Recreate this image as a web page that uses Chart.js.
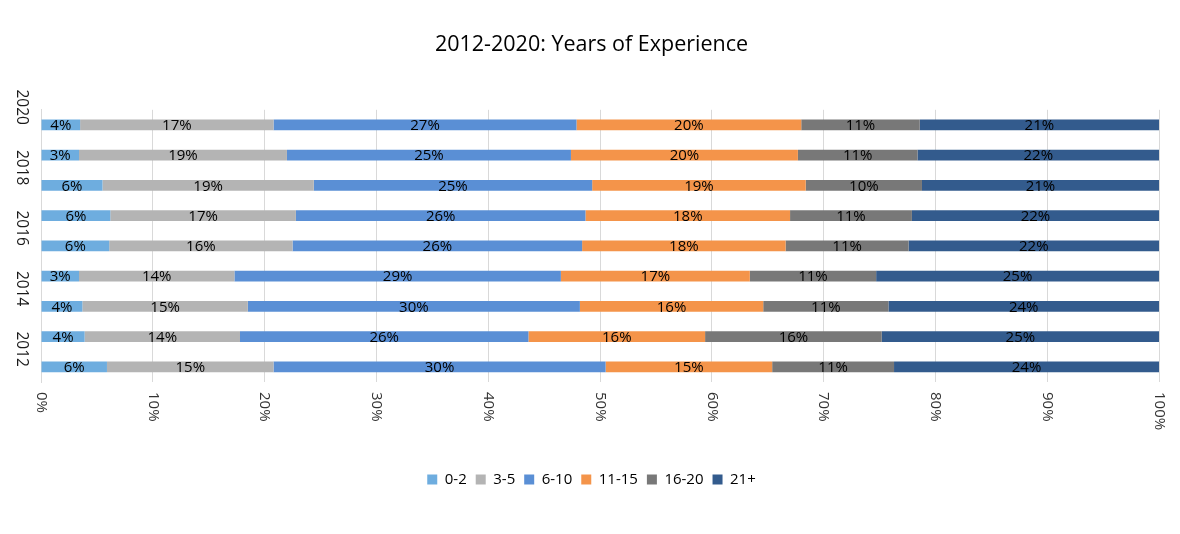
<!DOCTYPE html>
<html>
<head>
<meta charset="utf-8">
<script src="https://cdn.jsdelivr.net/npm/chart.js@4.4.1/dist/chart.umd.min.js"></script>
<style>
html,body{margin:0;padding:0;background:#ffffff;}
canvas{display:block;}
</style>
</head>
<body>
<canvas id="c" width="1180" height="534"></canvas>
<script>
// ---- data ----
const years = ['2012','2013','2014','2015','2016','2017','2018','2019','2020'];
const yLabelYears = ['2012','2014','2016','2018','2020'];
const seriesNames = ['0-2','3-5','6-10','11-15','16-20','21+'];
const exp0to2   = [5.9, 3.9, 3.7, 3.4, 6.1, 6.2, 5.5, 3.4, 3.5];
const exp3to5   = [14.9, 13.9, 14.8, 13.9, 16.4, 16.6, 18.9, 18.6, 17.3];
const exp6to10  = [29.7, 25.8, 29.7, 29.2, 25.9, 25.9, 24.9, 25.4, 27.1];
const exp11to15 = [14.9, 15.8, 16.4, 16.9, 18.2, 18.3, 19.1, 20.3, 20.1];
const exp16to20 = [10.9, 15.8, 11.2, 11.3, 11.0, 10.9, 10.4, 10.7, 10.6];
const exp21plus = [23.7, 24.8, 24.2, 25.3, 22.4, 22.1, 21.2, 21.6, 21.4];
const xTickLabels = ['0%','10%','20%','30%','40%','50%','60%','70%','80%','90%','100%'];

const seriesValues = [exp0to2, exp3to5, exp6to10, exp11to15, exp16to20, exp21plus];
const seriesColors = ['#6EADDF', '#B4B4B4', '#5A8FD5', '#F4944A', '#787878', '#335B8D'];

const FONT = '"Open Sans", "DejaVu Sans", sans-serif';

const customLabels = {
  id: 'customLabels',
  afterDatasetsDraw(chart) {
    const ctx = chart.ctx;
    ctx.save();
    ctx.font = '15px ' + FONT;
    ctx.fillStyle = '#000000';
    ctx.textAlign = 'center';
    ctx.textBaseline = 'middle';
    chart.data.datasets.forEach((ds, di) => {
      const meta = chart.getDatasetMeta(di);
      meta.data.forEach((bar, i) => {
        const p = bar.getProps(['x', 'base', 'y'], true);
        ctx.fillText(Math.round(ds.data[i]) + '%', (p.x + p.base) / 2, p.y + 1);
      });
    });
    ctx.restore();
  },
  afterDraw(chart) {
    const ctx = chart.ctx;
    const xs = chart.scales.x, ys = chart.scales.y;
    ctx.save();
    ctx.fillStyle = '#333333';
    ctx.font = '15px ' + FONT;
    xs.ticks.forEach((t, i) => {
      const px = xs.getPixelForValue(t.value);
      ctx.save();
      ctx.translate(px, chart.chartArea.bottom + 10);
      ctx.rotate(Math.PI / 2);
      ctx.textAlign = 'left';
      ctx.textBaseline = 'middle';
      ctx.fillText(xTickLabels[i], 0, 0);
      ctx.restore();
    });
    ctx.fillStyle = '#1a1a1a';
    ctx.font = '15.5px ' + FONT;
    yLabelYears.forEach(yr => {
      const py = ys.getPixelForValue(years.indexOf(yr));
      ctx.save();
      ctx.translate(21, py);
      ctx.rotate(Math.PI / 2);
      ctx.textAlign = 'right';
      ctx.textBaseline = 'middle';
      ctx.fillText(yr, 0, 0);
      ctx.restore();
    });
    ctx.restore();
  }
};

new Chart(document.getElementById('c'), {
  type: 'bar',
  data: {
    labels: years,
    datasets: seriesNames.map((name, k) => ({
      label: name,
      data: seriesValues[k],
      backgroundColor: seriesColors[k],
      borderWidth: 0,
      barPercentage: 0.36,
      categoryPercentage: 1.0
    }))
  },
  options: {
    indexAxis: 'y',
    responsive: false,
    animation: false,
    layout: { padding: { left: 24, right: 21, top: 0, bottom: 37 } },
    scales: {
      x: {
        stacked: true,
        min: 0, max: 100,
        ticks: { display: false, stepSize: 10 },
        grid: { color: '#D9D9D9', drawTicks: false, lineWidth: 1 },
        border: { display: false },
        afterFit(scale) { scale.height = 81; }
      },
      y: {
        stacked: true,
        reverse: true,
        ticks: { display: false },
        grid: { display: false },
        border: { display: true, color: '#D9D9D9' },
        afterFit(scale) { scale.width = 17; }
      }
    },
    plugins: {
      title: {
        display: true,
        text: '2012-2020: Years of Experience',
        color: '#000000',
        font: { family: FONT, size: 21.5, weight: 'normal', lineHeight: 1.2 },
        padding: { top: 32, bottom: 52 }
      },
      legend: {
        position: 'bottom',
        labels: {
          boxWidth: 10, boxHeight: 10,
          padding: 9,
          color: '#000000',
          font: { family: FONT, size: 15 }
        }
      },
      tooltip: { enabled: false }
    }
  },
  plugins: [customLabels]
});
</script>
</body>
</html>
